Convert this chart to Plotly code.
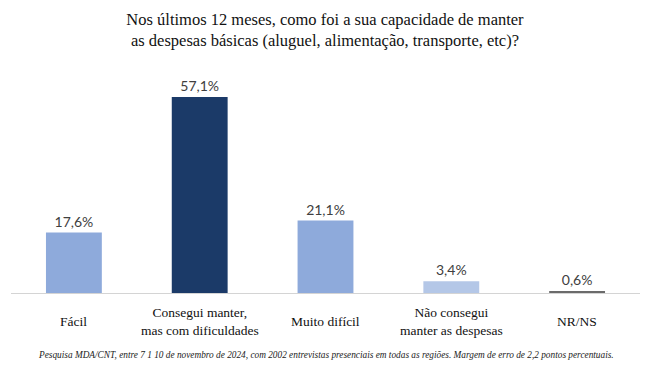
import plotly.graph_objects as go

categories = ["Fácil", "Consegui manter,<br>mas com dificuldades", "Muito difícil",
              "Não consegui<br>manter as despesas", "NR/NS"]
values = [17.6, 57.1, 21.1, 3.4, 0.6]
value_labels = ["17,6%", "57,1%", "21,1%", "3,4%", "0,6%"]
colors = ["#8EAADB", "#1B3A68", "#8EAADB", "#B4C7E7", "#6B6B6B"]

W, H = 650, 365
mt, mb = 87, 72
ph = H - mt - mb

fig = go.Figure(go.Bar(
    x=list(range(len(categories))), y=values, marker_color=colors, marker_line_width=0,
    text=value_labels, textposition="outside", cliponaxis=False,
    textfont=dict(family="Lato, Open Sans, sans-serif", size=14, color="#404040"),
))

annotations = []
for i, c in enumerate(categories):
    annotations.append(dict(x=i, xref="x", y=1 - (321 - mt) / ph, yref="paper",
                            text=c, showarrow=False, yanchor="middle", xanchor="center",
                            font=dict(family="Liberation Serif, serif", size=13.5, color="#111111")))
annotations.append(dict(x=0.5, xref="paper", y=-(355 - (H - mb)) / ph, yref="paper", yanchor="middle",
                        text="<i>Pesquisa MDA/CNT, entre 7 1 10 de novembro de 2024, com 2002 entrevistas presenciais em todas as regiões. Margem de erro de 2,2 pontos percentuais.</i>",
                        showarrow=False, xanchor="center",
                        font=dict(family="Liberation Serif, serif", size=9.3, color="#222222")))

fig.update_layout(
    width=W, height=H, margin=dict(l=11, r=10, t=mt, b=mb),
    paper_bgcolor="white", plot_bgcolor="white",
    bargap=0.556, showlegend=False,
    title=dict(text="Nos últimos 12 meses, como foi a sua capacidade de manter<br>as despesas básicas (aluguel, alimentação, transporte, etc)?",
               x=0.5, xanchor="center", y=1 - 25 / H, yanchor="middle", yref="container",
               font=dict(family="Liberation Serif, serif", size=16.5, color="#111111")),
    xaxis=dict(range=[-0.5, 4.5], showticklabels=False, showgrid=False, zeroline=False,
               showline=True, linecolor="#D4D4D4", linewidth=1, ticks=""),
    yaxis=dict(range=[0, 60], visible=False, showgrid=False, zeroline=False),
    annotations=annotations,
)

fig.write_html("out.html", config={"displayModeBar": False},
               post_script="document.body.style.margin='0';document.body.style.overflow='hidden';")
